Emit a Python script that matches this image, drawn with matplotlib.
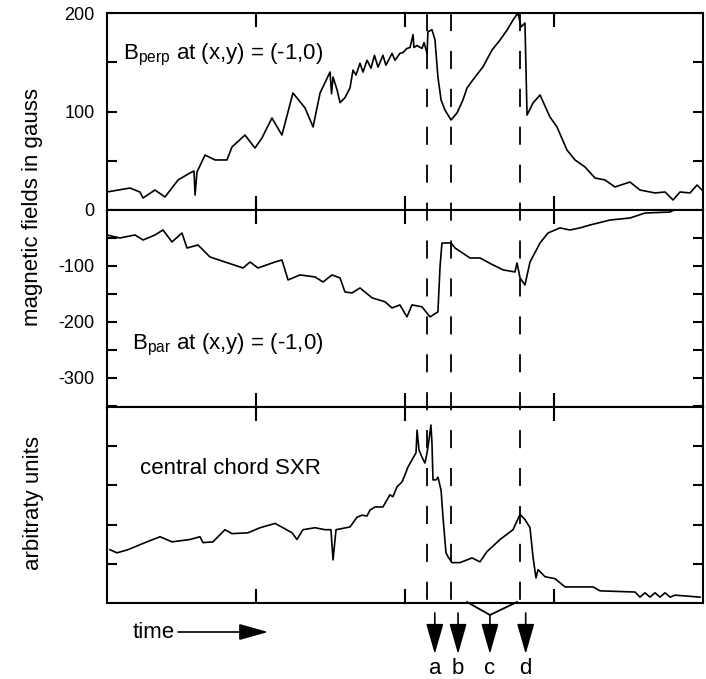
import matplotlib
matplotlib.use("Agg")
import matplotlib.pyplot as plt
from matplotlib.lines import Line2D
from matplotlib import transforms

plt.rcParams['font.family'] = ['Liberation Sans', 'DejaVu Sans']
plt.rcParams['mathtext.fontset'] = 'custom'
plt.rcParams['mathtext.rm'] = 'Liberation Sans'
plt.rcParams['mathtext.it'] = 'Liberation Sans:italic'

# B_perp (gauss) vs time (arb.)
t_perp = [0.000, 0.154, 0.221, 0.242, 0.322, 0.389, 0.477, 0.557, 0.584, 0.591,
          0.604, 0.658, 0.725, 0.805, 0.839, 0.926, 0.993, 1.040, 1.107, 1.174,
          1.248, 1.329, 1.383, 1.430, 1.497, 1.507, 1.517, 1.544, 1.564, 1.597,
          1.631, 1.651, 1.671, 1.698, 1.718, 1.745, 1.772, 1.795, 1.819, 1.852,
          1.872, 1.913, 1.933, 1.966, 1.987, 2.013, 2.034, 2.054, 2.060, 2.081,
          2.114, 2.128, 2.148, 2.154, 2.181, 2.201, 2.221, 2.242, 2.268, 2.309,
          2.349, 2.389, 2.416, 2.470, 2.523, 2.584, 2.638, 2.685, 2.725, 2.758,
          2.779, 2.805, 2.819, 2.859, 2.906, 2.973, 3.020, 3.087, 3.141, 3.208,
          3.275, 3.342, 3.409, 3.510, 3.577, 3.678, 3.745, 3.799, 3.846, 3.913,
          3.960, 3.993]
b_perp = [18.3, 22.3, 18.3, 12.2, 20.3, 13.2, 30.5, 37.6, 39.6, 15.2,
          38.6, 55.8, 50.8, 50.8, 64.0, 76.1, 62.9, 73.1, 93.4, 76.1,
          118.8, 103.6, 84.3, 118.8, 140.1, 118.0, 135.0, 122.0, 109.0, 114.0,
          124.0, 142.0, 137.0, 149.0, 140.0, 152.0, 144.0, 157.0, 145.0, 157.0,
          147.0, 159.0, 152.0, 159.0, 160.0, 164.0, 165.0, 178.0, 165.0, 167.0,
          164.0, 170.0, 159.0, 181.0, 183.0, 173.0, 135.0, 111.7, 101.5, 91.4,
          98.5, 111.7, 123.9, 135.0, 145.2, 162.4, 172.6, 182.7, 192.9, 200.0,
          185.8, 189.8, 96.4, 108.6, 116.8, 94.4, 84.3, 60.9, 50.8, 43.7,
          32.5, 30.5, 23.4, 28.4, 20.3, 17.3, 18.3, 10.2, 18.3, 17.3,
          25.4, 20.3]

# B_par (gauss)
t_par = [0.000, 0.087, 0.188, 0.242, 0.322, 0.376, 0.436, 0.503, 0.537, 0.611,
         0.691, 0.792, 0.913, 0.960, 1.013, 1.128, 1.174, 1.215, 1.295, 1.396,
         1.450, 1.510, 1.564, 1.597, 1.644, 1.698, 1.779, 1.866, 1.913, 1.966,
         2.013, 2.047, 2.114, 2.168, 2.221, 2.235, 2.248, 2.309, 2.336, 2.436,
         2.503, 2.591, 2.658, 2.738, 2.752, 2.772, 2.805, 2.839, 2.906, 2.960,
         3.040, 3.107, 3.174, 3.242, 3.376, 3.510, 3.611, 3.779, 3.846, 3.913,
         3.980]
b_par = [-44.6, -50.0, -44.6, -53.6, -44.6, -35.7, -57.1, -41.1, -67.9, -62.5,
         -83.9, -92.9, -103.6, -92.9, -103.6, -92.9, -89.3, -125.0, -116.0, -119.6,
         -128.6, -116.0, -121.4, -146.4, -148.2, -139.3, -157.0, -164.0, -175.0, -169.6,
         -191.0, -169.6, -173.0, -191.0, -182.0, -101.8, -59.0, -59.0, -67.9, -85.7,
         -85.7, -98.2, -107.0, -110.7, -94.6, -121.4, -134.0, -92.9, -59.0, -41.0,
         -32.0, -35.7, -32.0, -26.8, -17.9, -14.3, -5.4, -3.6, 5.4, 0.0,
         3.6]

# central chord SXR (arbitrary units)
t_sxr = [0.020, 0.067, 0.141, 0.255, 0.356, 0.436, 0.557, 0.624, 0.644, 0.711,
         0.792, 0.839, 0.946, 1.027, 1.128, 1.181, 1.242, 1.275, 1.315, 1.396,
         1.463, 1.503, 1.517, 1.537, 1.631, 1.678, 1.711, 1.745, 1.765, 1.799,
         1.852, 1.879, 1.899, 1.919, 1.946, 1.980, 2.000, 2.020, 2.054, 2.074,
         2.081, 2.094, 2.114, 2.134, 2.148, 2.161, 2.174, 2.181, 2.188, 2.208,
         2.221, 2.242, 2.255, 2.275, 2.289, 2.315, 2.369, 2.450, 2.503, 2.550,
         2.638, 2.725, 2.772, 2.805, 2.839, 2.859, 2.879, 2.893, 2.940, 3.007,
         3.074, 3.262, 3.309, 3.544, 3.577, 3.611, 3.644, 3.678, 3.711, 3.745,
         3.779, 3.812, 3.980]
sxr = [1.36, 1.28, 1.36, 1.54, 1.69, 1.56, 1.62, 1.69, 1.54, 1.56,
       1.87, 1.77, 1.79, 1.92, 2.03, 1.92, 1.79, 1.62, 1.87, 1.92,
       1.87, 1.87, 1.10, 1.87, 1.94, 2.19, 2.24, 2.22, 2.37, 2.45,
       2.45, 2.63, 2.76, 2.71, 2.96, 3.09, 3.27, 3.47, 3.70, 3.83,
       4.41, 3.90, 3.72, 3.57, 3.83, 4.16, 4.54, 4.08, 3.14, 3.14,
       3.21, 2.88, 2.19, 1.28, 1.18, 1.03, 1.03, 1.15, 1.05, 1.31,
       1.62, 1.87, 2.26, 2.13, 1.92, 1.18, 0.64, 0.85, 0.67, 0.62,
       0.41, 0.41, 0.31, 0.28, 0.15, 0.26, 0.15, 0.26, 0.15, 0.26,
       0.15, 0.20, 0.15]

event_times = [2.15, 2.31, 2.775]          # dashed markers
arrow_times = [2.20, 2.356, 2.57, 2.81]   # a b c d arrows
arrow_labels = ['a', 'b', 'c', 'd']

fig = plt.figure(figsize=(7.06, 6.79), dpi=100)
W, H = 706, 679
left, width = 107 / W, 596 / W
ax1 = fig.add_axes([left, 1 - 210 / H, width, 197 / H])
ax2 = fig.add_axes([left, 1 - 407 / H, width, 197 / H])
ax3 = fig.add_axes([left, 1 - 603 / H, width, 196 / H])

ax1.plot(t_perp, b_perp, color='black', lw=1.2)
ax2.plot(t_par, b_par, color='black', lw=1.2)
ax3.plot(t_sxr, sxr, color='black', lw=1.2)

ax1.set_ylim(0, 200)
ax2.set_ylim(-352, 0)
ax3.set_ylim(0, 5)
ax1.set_yticks([0, 50, 100, 150, 200], ['0', '', '100', '', '200'])
ax2.set_yticks([-350, -300, -250, -200, -150, -100, -50],
               ['', '-300', '', '-200', '', '-100', ''])
ax3.set_yticks([1, 2, 3, 4], [])

for ax in (ax1, ax2, ax3):
    ax.set_xlim(0, 4)
    ax.set_xticks([1, 2, 3], [])
    ax.tick_params(axis='x', direction='in', length=10, width=1.5,
                   top=True, bottom=True)
    ax.tick_params(axis='y', direction='in', length=7, width=1.5,
                   left=True, right=True, labelsize=13, pad=9)
    for s in ax.spines.values():
        s.set_linewidth(1.5)

ax1.text(0.107, 153, r'B$_{\mathrm{perp}}$ at (x,y) = (-1,0)', fontsize=16,
         va='baseline')
ax2.text(0.168, -249, r'B$_{\mathrm{par}}$ at (x,y) = (-1,0)', fontsize=16,
         va='baseline')
ax3.text(0.22, 3.28, 'central chord SXR', fontsize=16, va='baseline')

fig.text(33 / W, 1 - 207 / H, 'magnetic fields in gauss', rotation=90,
         fontsize=16, ha='center', va='center')
fig.text(33 / W, 1 - 503 / H, 'arbitraty units', rotation=90,
         fontsize=16, ha='center', va='center')

# dashed event lines through all panels
tr = transforms.blended_transform_factory(ax3.transData, fig.transFigure)
for xe in event_times:
    fig.add_artist(Line2D([xe, xe], [1 - 13 / H, 1 - 603 / H], transform=tr,
                          color='black', lw=1.3, dashes=(10, 11)))


def py(p):
    # pixel row -> bottom-panel data y
    return (603 - p) / 39.2


# bracket joining b..d into c
ax3.plot([2.416, 2.57, 2.752], [py(602), py(615), py(602)], color='black',
         lw=1.3, clip_on=False)

for xa, lab in zip(arrow_times, arrow_labels):
    y0 = py(615) if lab == 'c' else py(613)
    ax3.annotate('', xy=(xa, py(654)), xytext=(xa, y0),
                 arrowprops=dict(arrowstyle='-|>,head_length=1.05,head_width=0.3',
                                 mutation_scale=18, color='black', lw=1.2,
                                 shrinkA=0, shrinkB=0),
                 annotation_clip=False)
    ax3.text(xa, py(668), lab, fontsize=16, ha='center', va='center')

ax3.text(0.174, py(632), 'time', fontsize=16, ha='left', va='center')
ax3.annotate('', xy=(1.081, py(632)), xytext=(0.477, py(632)),
             arrowprops=dict(arrowstyle='-|>,head_length=1.0,head_width=0.28',
                             mutation_scale=18, color='black', lw=1.2,
                             shrinkA=0, shrinkB=0),
             annotation_clip=False)

fig.savefig('out.png', dpi=100)
